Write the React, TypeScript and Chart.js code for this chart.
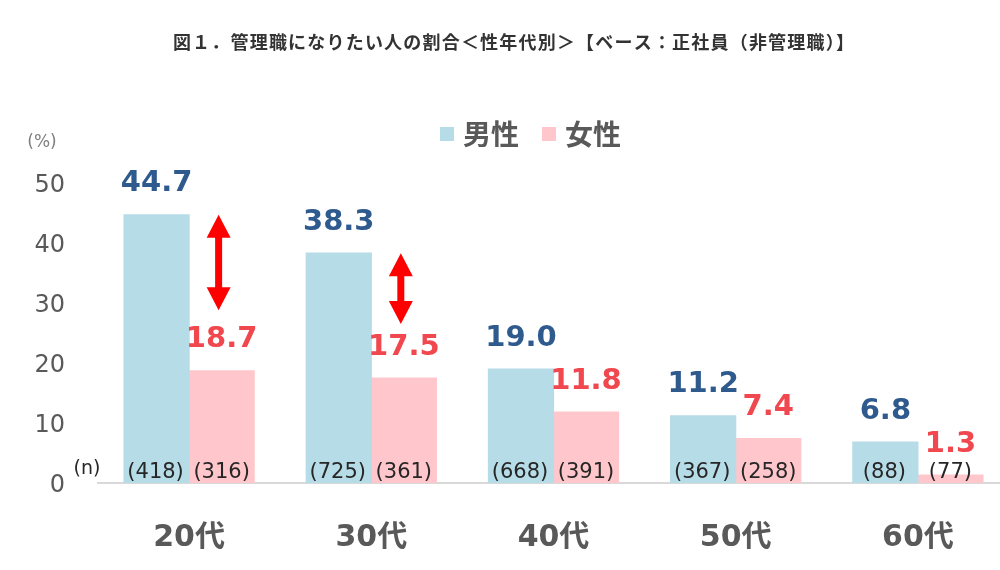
import React, { useEffect, useRef } from "react";
import { Chart, registerables } from "chart.js";

Chart.register(...registerables);

const titleText = "図１．管理職になりたい人の割合＜性年代別＞【ベース：正社員（非管理職）】";
const categories = ["20代", "30代", "40代", "50代", "60代"];
const seriesLabels = ["男性", "女性"];
const maleValues = [44.7, 38.3, 19.0, 11.2, 6.8];
const femaleValues = [18.7, 17.5, 11.8, 7.4, 1.3];
const maleN = [418, 725, 668, 367, 88];
const femaleN = [316, 361, 391, 258, 77];
const yMax = 50;
const yStep = 10;
// difference arrows (category index, from value, to value)
const arrowCategory = [0, 1];
const arrowFrom = [44.7, 38.3];
const arrowTo = [28.8, 26.5];

const MALE_BAR = "#B6DCE7";
const FEMALE_BAR = "#FFC7CB";
const MALE_TEXT = "#2F5A8E";
const FEMALE_TEXT = "#F0484E";
const GRAY = "#595959";
const FONT = "'DejaVu Sans', 'Noto Sans CJK JP', sans-serif";

const overlayPlugin = {
  id: "overlay",
  afterDatasetsDraw(chart: any) {
    const ctx = chart.ctx as CanvasRenderingContext2D;
    const yScale = chart.scales.y;
    const zeroY = yScale.getPixelForValue(0);
    const m0 = chart.getDatasetMeta(0);
    const m1 = chart.getDatasetMeta(1);
    ctx.save();
    ctx.textAlign = "center";
    ctx.textBaseline = "middle";

    // value labels
    ctx.font = `bold 29px ${FONT}`;
    m0.data.forEach((el: any, i: number) => {
      ctx.fillStyle = MALE_TEXT;
      ctx.fillText(maleValues[i].toFixed(1), el.x, el.y - 31);
    });
    m1.data.forEach((el: any, i: number) => {
      ctx.fillStyle = FEMALE_TEXT;
      ctx.fillText(femaleValues[i].toFixed(1), el.x, el.y - 31);
    });

    // sample sizes
    ctx.font = `21px ${FONT}`;
    ctx.fillStyle = "#262626";
    m0.data.forEach((el: any, i: number) => {
      ctx.fillText(`(${maleN[i]})`, el.x - 1, zeroY - 10);
    });
    m1.data.forEach((el: any, i: number) => {
      ctx.fillText(`(${femaleN[i]})`, el.x, zeroY - 10);
    });
    ctx.font = `19px ${FONT}`;
    ctx.fillText("(n)", 87, zeroY - 14);

    // arrows
    ctx.fillStyle = "#FF0000";
    arrowCategory.forEach((ci, k) => {
      const el = m1.data[ci];
      const x = el.x - 3;
      const top = yScale.getPixelForValue(arrowFrom[k]);
      const bot = yScale.getPixelForValue(arrowTo[k]);
      const hw = 12;
      const hl = 23;
      const sw = 3.5;
      ctx.beginPath();
      ctx.moveTo(x, top);
      ctx.lineTo(x + hw, top + hl);
      ctx.lineTo(x + sw, top + hl);
      ctx.lineTo(x + sw, bot - hl);
      ctx.lineTo(x + hw, bot - hl);
      ctx.lineTo(x, bot);
      ctx.lineTo(x - hw, bot - hl);
      ctx.lineTo(x - sw, bot - hl);
      ctx.lineTo(x - sw, top + hl);
      ctx.lineTo(x - hw, top + hl);
      ctx.closePath();
      ctx.fill();
    });

    // title
    ctx.font = `bold 18px 'Noto Sans CJK JP', sans-serif`;
    ctx.fillStyle = "#333333";
    (ctx as any).letterSpacing = "1.2px";
    ctx.fillText(titleText, 514, 42);
    (ctx as any).letterSpacing = "0px";

    // (%) unit
    ctx.font = `17px ${FONT}`;
    ctx.fillStyle = "#7F7F7F";
    ctx.fillText("(%)", 42, 143);

    // legend
    const colors = [MALE_BAR, FEMALE_BAR];
    const legendX = [440, 542];
    ctx.textAlign = "left";
    ctx.font = `bold 28px 'Noto Sans CJK JP', sans-serif`;
    seriesLabels.forEach((lab, i) => {
      ctx.fillStyle = colors[i];
      ctx.fillRect(legendX[i], 127, 14, 14);
      ctx.fillStyle = GRAY;
      ctx.fillText(lab, legendX[i] + 23, 134);
    });
    ctx.restore();
  },
};

export default function App() {
  const ref = useRef<HTMLCanvasElement | null>(null);
  useEffect(() => {
    document.body.style.margin = "0";
    document.body.style.overflow = "hidden";
    const canvas = ref.current!;
    const chart = new Chart(canvas, {
      type: "bar",
      data: {
        labels: categories,
        datasets: [
          {
            label: seriesLabels[0],
            data: maleValues,
            backgroundColor: MALE_BAR,
            borderWidth: 0,
            inflateAmount: 0.6,
            categoryPercentage: 0.714,
            barPercentage: 1.0,
          },
          {
            label: seriesLabels[1],
            data: femaleValues,
            backgroundColor: FEMALE_BAR,
            borderWidth: 0,
            inflateAmount: 0.6,
            categoryPercentage: 0.714,
            barPercentage: 1.0,
          },
        ],
      },
      options: {
        responsive: false,
        animation: false,
        devicePixelRatio: 1,
        layout: { padding: { top: 183, right: 11, left: 0, bottom: 0 } },
        plugins: {
          legend: { display: false },
          title: { display: false },
          tooltip: { enabled: false },
        },
        scales: {
          x: {
            grid: { display: false, drawTicks: false },
            border: { display: true, color: "#D9D9D9", width: 2 },
            ticks: {
              color: GRAY,
              font: { family: FONT, size: 30, weight: "bold" },
              padding: 37,
            },
            afterFit: (s: any) => {
              s.height = 87;
            },
          },
          y: {
            min: 0,
            max: yMax,
            grid: { display: false, drawTicks: false },
            border: { display: false },
            ticks: {
              stepSize: yStep,
              color: GRAY,
              font: { family: FONT, size: 24 },
              padding: 33,
              labelOffset: 3,
            },
            afterFit: (s: any) => {
              s.width = 98;
            },
          },
        },
      },
      plugins: [overlayPlugin],
    });
    return () => chart.destroy();
  }, []);
  return (
    <div style={{ position: "fixed", left: 0, top: 0, width: 1020, height: 570, background: "#fff" }}>
      <canvas ref={ref} width={1020} height={570} style={{ width: 1020, height: 570, display: "block" }} />
    </div>
  );
}
